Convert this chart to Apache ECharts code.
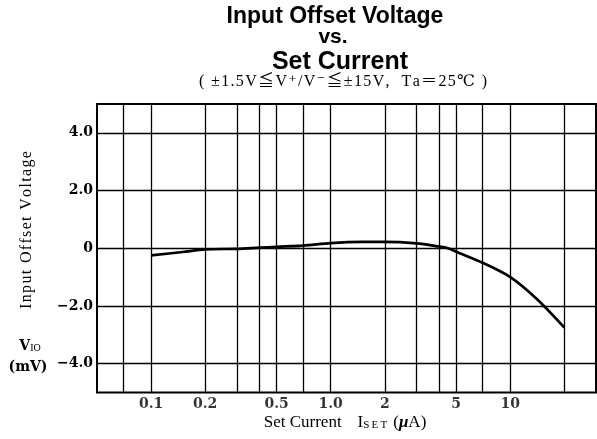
<!DOCTYPE html>
<html lang="en">
<head>
    <meta charset="UTF-8">
    <title>Input Offset Voltage vs. Set Current</title>
    <script type="text/javascript" src="https://cdn.jsdelivr.net/npm/echarts@6/dist/echarts.min.js"></script>
    <style>
        html, body { margin: 0; padding: 0; background: #fff; }
        #chart { width: 597px; height: 439px; }
    </style>
</head>
<body>
<div id="chart"></div>
<script type="text/javascript">
    // set current (uA) and offset voltage (mV)
    var setCurrent = [0.1, 0.15, 0.2, 0.3, 0.4, 0.5, 0.7, 1.0, 1.5, 2, 3, 4, 4.5, 5, 7, 10, 14, 20];
    var offsetVoltage = [-0.25, -0.13, -0.04, -0.02, 0.02, 0.05, 0.09, 0.18, 0.22, 0.22, 0.17, 0.06, 0.0, -0.12, -0.5, -1.0, -1.75, -2.75];

    // grid lines of the log paper
    var xGridLines = [0.07, 0.1, 0.2, 0.3, 0.4, 0.5, 0.7, 1, 2, 3, 4, 5, 7, 10, 20];
    var yGridLines = [-4, -2, 0, 2, 4];

    // tick labels
    var xTickValues = [0.1, 0.2, 0.5, 1, 2, 5, 10];
    var xTickLabels = ['0.1', '0.2', '0.5', '1.0', '2', '5', '10'];
    var yTickValues = [-4, -2, 0, 2, 4];
    var yTickLabels = ['\u22124.0', '\u22122.0', '0', '2.0', '4.0'];

    var SERIF = '"Liberation Serif", "DejaVu Serif", "Noto Sans CJK JP", serif';
    var BOLD_SERIF = '"DejaVu Serif", "Liberation Serif", serif';
    var SANS = '"Liberation Sans", Arial, sans-serif';

    function spaced(s, sep) {
        return s.split('').join(sep || '\u200a');
    }

    var chart = echarts.init(document.getElementById('chart'));

    var gridMarks = [];
    xGridLines.forEach(function (v) { gridMarks.push({xAxis: v}); });
    yGridLines.forEach(function (v) { gridMarks.push({yAxis: v}); });

    var option = {
        animation: false,
        backgroundColor: '#fff',
        grid: {
            left: 97, right: 1, top: 104, bottom: 46.5,
            show: true, borderColor: '#000', borderWidth: 2, backgroundColor: 'transparent'
        },
        xAxis: {
            type: 'log',
            logBase: 10,
            min: 0.05,
            max: 30,
            axisLine: {show: false},
            axisTick: {show: false},
            axisLabel: {show: false},
            splitLine: {show: false}
        },
        yAxis: {
            type: 'value',
            min: -5,
            max: 5,
            interval: 1,
            axisLine: {show: false},
            axisTick: {show: false},
            splitLine: {show: false},
            axisLabel: {
                margin: 4,
                color: '#000',
                fontFamily: BOLD_SERIF,
                fontWeight: 'bold',
                fontSize: 14,
                formatter: function (v) {
                    var i = yTickValues.indexOf(v);
                    return i < 0 ? '' : yTickLabels[i];
                }
            }
        },
        series: [
            {
                type: 'line',
                data: setCurrent.map(function (x, i) { return [x, offsetVoltage[i]]; }),
                smooth: 0.3,
                symbol: 'none',
                z: 5,
                lineStyle: {color: '#000', width: 2.7},
                markLine: {
                    silent: true,
                    symbol: ['none', 'none'],
                    label: {show: false},
                    lineStyle: {color: '#000', width: 1.3, type: 'solid'},
                    data: gridMarks
                }
            },
            {
                type: 'scatter',
                data: xTickValues.map(function (x) { return [x, -5]; }),
                symbolSize: 1,
                itemStyle: {color: 'rgba(0,0,0,0)'},
                silent: true,
                clip: false,
                label: {
                    show: true,
                    position: 'bottom',
                    distance: 4,
                    color: '#000',
                    fontFamily: BOLD_SERIF,
                    fontWeight: 'bold',
                    fontSize: 14,
                    formatter: function (p) { return xTickLabels[p.dataIndex]; }
                }
            }
        ],
        graphic: [
            {
                type: 'text', x: 335, y: 17,
                style: {text: 'Input Offset Voltage', font: 'bold 23px ' + SANS, fill: '#000', align: 'center', verticalAlign: 'middle'}
            },
            {
                type: 'text', x: 333, y: 37,
                style: {text: 'vs.', font: 'bold 21px ' + SANS, fill: '#000', align: 'center', verticalAlign: 'middle'}
            },
            {
                type: 'text', x: 340, y: 62,
                style: {text: 'Set Current', font: 'bold 25px ' + SANS, fill: '#000', align: 'center', verticalAlign: 'middle'}
            },
            {
                type: 'text', x: 343, y: 82,
                style: {
                    text: spaced('( \u00b11.5V\u2266V\u207a/V\u207b\u2266\u00b115V,  Ta\uff1d25\u2103 )'),
                    font: '16px ' + SERIF, fill: '#000', align: 'center', verticalAlign: 'middle'
                }
            },
            {
                type: 'text', x: 27, y: 230, rotation: Math.PI / 2,
                style: {text: spaced('Input Offset Voltage'), font: '16px ' + SERIF, fill: '#000', align: 'center', verticalAlign: 'middle'}
            },
            {
                type: 'text', x: 30, y: 346,
                style: {
                    text: '{v|V}{s|IO}',
                    align: 'center', verticalAlign: 'middle',
                    rich: {
                        v: {fontFamily: BOLD_SERIF, fontWeight: 'bold', fontSize: 14, color: '#000'},
                        s: {fontFamily: SERIF, fontSize: 10, color: '#000', padding: [5, 0, 0, 0]}
                    }
                }
            },
            {
                type: 'text', x: 28, y: 367,
                style: {text: '(mV)', font: 'bold 14px ' + BOLD_SERIF, fill: '#000', align: 'center', verticalAlign: 'middle'}
            },
            {
                type: 'text', x: 345, y: 423,
                style: {
                    text: '{a|Set Current}{g|}{i|I}{s|S\u2009E\u2009T}{g2|}{a|(}{m|\u03bc}{a|A)}',
                    align: 'center', verticalAlign: 'middle',
                    rich: {
                        a: {fontFamily: SERIF, fontSize: 17, color: '#000'},
                        g: {width: 16},
                        g2: {width: 6},
                        i: {fontFamily: SERIF, fontSize: 17, color: '#000'},
                        s: {fontFamily: SERIF, fontSize: 11, color: '#000', padding: [4, 0, 0, 0]},
                        m: {fontFamily: SERIF, fontStyle: 'italic', fontWeight: 'bold', fontSize: 17, color: '#000'}
                    }
                }
            }
        ]
    };

    chart.setOption(option);
</script>
</body>
</html>
